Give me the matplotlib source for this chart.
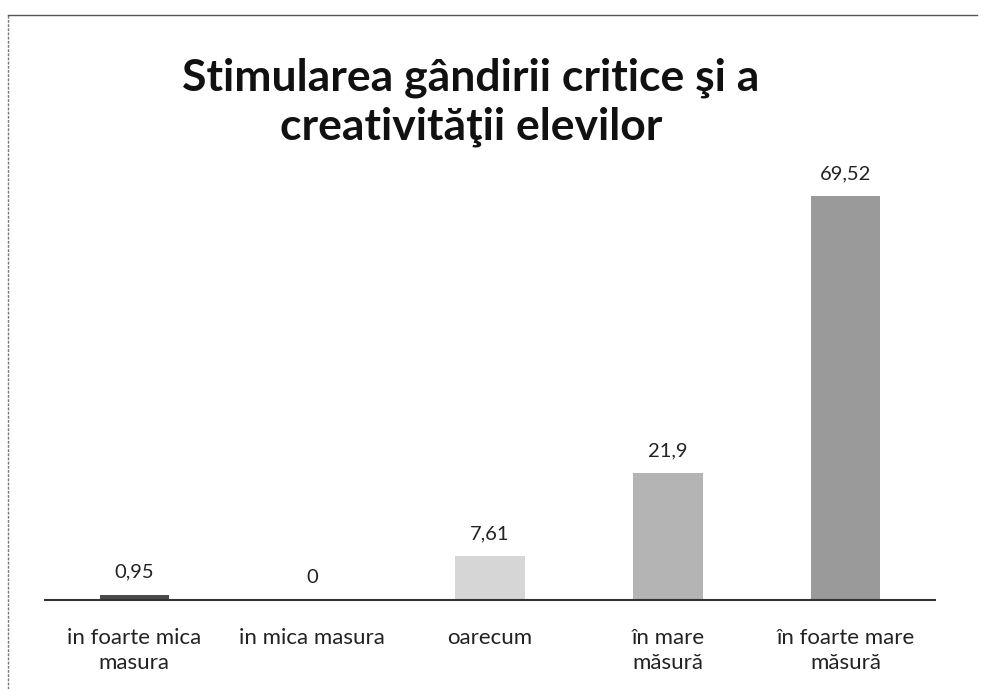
import matplotlib.pyplot as plt
from matplotlib.lines import Line2D


# Data

Categories = ["in foarte mica\nmasura", "in mica masura", "oarecum",
              "în mare\nmăsură", "în foarte mare\nmăsură"]
Values = [0.95, 0, 7.61, 21.9, 69.52]
Value_Labels = ["0,95", "0", "7,61", "21,9", "69,52"]
Bar_Colors = ["#4a4a4a", "#d0d0d0", "#d6d6d6", "#b4b4b4", "#9a9a9a"]

Title = "Stimularea gândirii critice şi a\ncreativităţii elevilor"

plt.rcParams["font.family"] = ["Lato", "DejaVu Sans"]


# Plotting

fig = plt.figure(figsize= (9.87, 6.89), dpi= 100)
ax = fig.add_axes([0.046, 0.129, 0.901, 0.70])

x = range(len(Categories))
ax.bar(x, Values, width= 0.39, color= Bar_Colors, edgecolor= "none")

for i, v in enumerate(Values):
    ax.annotate(Value_Labels[i], (i, v), xytext= (0, 10), textcoords= "offset points",
                ha= "center", va= "bottom", fontsize= 14.5, color= "#222222")

ax.set_xlim(-0.5, len(Categories) - 0.5)
ax.set_ylim(0, 83)
ax.set_xticks(list(x))
ax.set_xticklabels(Categories, fontsize= 16, color= "#222222", linespacing= 1.35)
ax.tick_params(axis= "x", length= 0, pad= 20)
ax.set_yticks([])

for side in ["top", "right", "left"]:
    ax.spines[side].set_visible(False)
ax.spines["bottom"].set_color("#333333")
ax.spines["bottom"].set_linewidth(1.5)

fig.text(0.477, 0.852, Title, ha= "center", va= "center", fontsize= 32,
         fontweight= "bold", color= "#111111", linespacing= 1.25)

# scanned page border
fig.add_artist(Line2D([0.008, 0.008], [0.0, 0.978], transform= fig.transFigure,
                      color= "#777777", linewidth= 1, linestyle= (0, (2, 1))))
fig.add_artist(Line2D([0.008, 0.99], [0.978, 0.978], transform= fig.transFigure,
                      color= "#555555", linewidth= 1))

plt.savefig("out.png", dpi= 100)
